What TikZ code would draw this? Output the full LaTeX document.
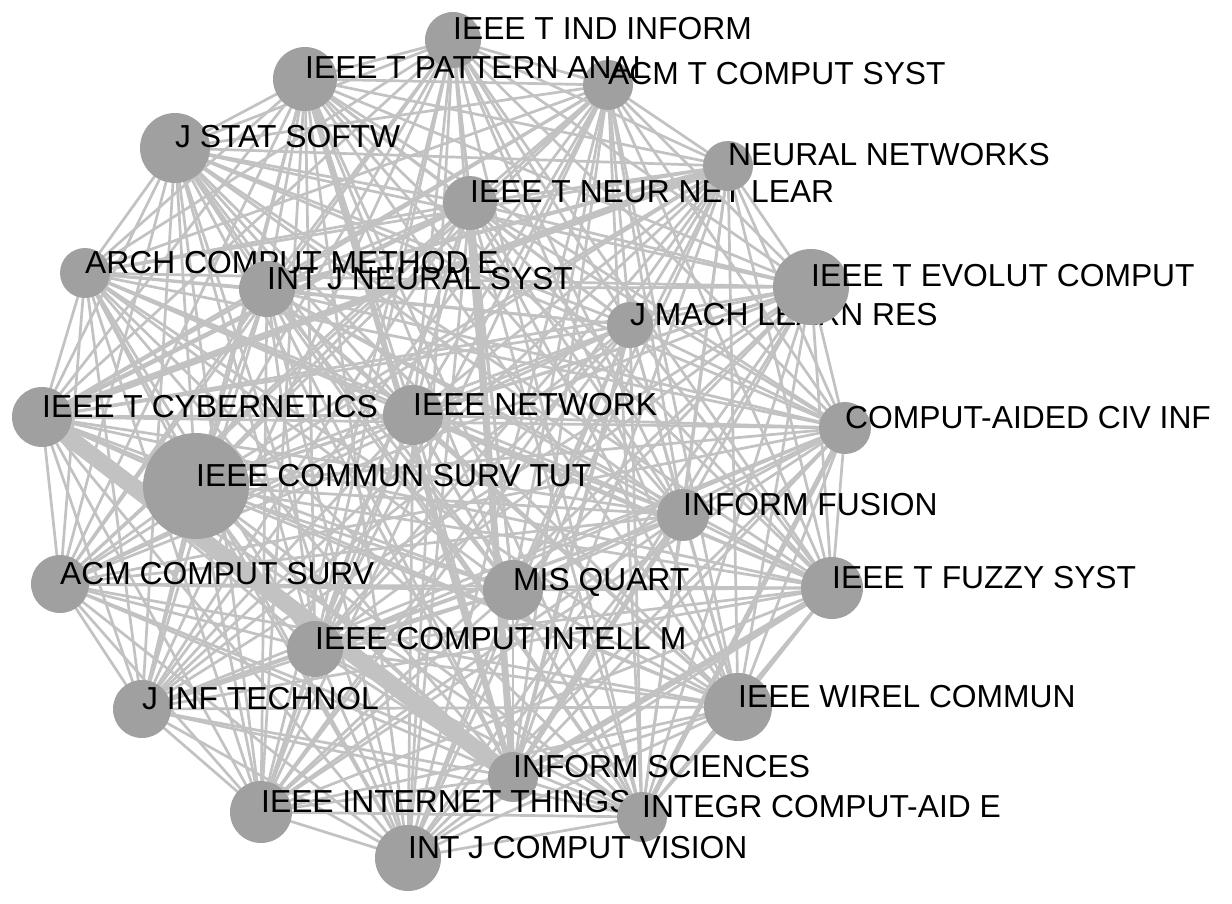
\documentclass[tikz,border=0pt]{standalone}
\usepackage{fontspec}
\setmainfont{Liberation Sans}
\usetikzlibrary{backgrounds}
\definecolor{edgegray}{HTML}{C2C2C2}
\definecolor{nodegray}{HTML}{A0A0A0}
\begin{document}
\begin{tikzpicture}[x=1pt,y=-1pt,
  jnode/.style={circle,fill=nodegray,inner sep=0pt,minimum size=#1},
  jlabel/.style={anchor=base west,inner sep=0pt,font=\fontsize{31.8}{36}\selectfont,text=black},
  link/.style={draw=edgegray,line width=2.7pt},
  heavy/.style={draw=edgegray,line width=#1}]
\useasboundingbox (0,0) rectangle (1232,904);
% circles (first group)
\node[jnode=56pt] (n1) at (453,40) {};
\node[jnode=64pt] (n2) at (305,79) {};
\node[jnode=50pt] (n3) at (608,85) {};
\node[jnode=70pt] (n4) at (175,148) {};
\node[jnode=54pt] (n6) at (470,203) {};
\node[jnode=50pt] (n7) at (85,273) {};
\node[jnode=46pt] (n10) at (630,325) {};
\node[jnode=60pt] (n11) at (42,417) {};
\node[jnode=60pt] (n12) at (413,415) {};
\node[jnode=52pt] (n13) at (845,428) {};
\node[jnode=106pt] (n14) at (196,486) {};
\node[jnode=52pt] (n15) at (683,515) {};
\node[jnode=58pt] (n16) at (60,584) {};
\node[jnode=60pt] (n17) at (513,590) {};
\node[jnode=62pt] (n18) at (832,588) {};
\node[jnode=56pt] (n19) at (315,649) {};
\node[jnode=58pt] (n20) at (142,709) {};
\node[jnode=68pt] (n21) at (738,707) {};
\node[jnode=50pt] (n22) at (513,777) {};
\node[jnode=62pt] (n23) at (261,812) {};
\node[jnode=66pt] (n25) at (408,858) {};
% labels that are partly hidden by later circles
\node[jlabel] (l7) at (n7.center) {ARCH COMPUT METHOD E};
\node[jlabel] (l10) at (n10.center) {J MACH LEARN RES};
\node[jlabel] (l23) at (n23.center) {IEEE INTERNET THINGS};
\node[jlabel] (l6) at (n6.center) {IEEE T NEUR NET LEAR};
% circles (second group)
\node[jnode=50pt] (n5) at (728,166) {};
\node[jnode=56pt] (n8) at (267,289) {};
\node[jnode=76pt] (n9) at (811,287) {};
\node[jnode=50pt] (n24) at (642,817) {};
% remaining labels
\node[jlabel] (l1) at (n1.center) {IEEE T IND INFORM};
\node[jlabel] (l2) at (n2.center) {IEEE T PATTERN ANAL};
\node[jlabel] (l3) at (n3.center) {ACM T COMPUT SYST};
\node[jlabel] (l4) at (n4.center) {J STAT SOFTW};
\node[jlabel] (l5) at (n5.center) {NEURAL NETWORKS};
\node[jlabel] (l8) at (n8.center) {INT J NEURAL SYST};
\node[jlabel] (l9) at (n9.center) {IEEE T EVOLUT COMPUT};
\node[jlabel] (l11) at (n11.center) {IEEE T CYBERNETICS};
\node[jlabel] (l12) at (n12.center) {IEEE NETWORK};
\node[jlabel] (l13) at (n13.center) {COMPUT-AIDED CIV INF};
\node[jlabel] (l14) at (n14.center) {IEEE COMMUN SURV TUT};
\node[jlabel] (l15) at (n15.center) {INFORM FUSION};
\node[jlabel] (l16) at (n16.center) {ACM COMPUT SURV};
\node[jlabel] (l17) at (n17.center) {MIS QUART};
\node[jlabel] (l18) at (n18.center) {IEEE T FUZZY SYST};
\node[jlabel] (l19) at (n19.center) {IEEE COMPUT INTELL M};
\node[jlabel] (l20) at (n20.center) {J INF TECHNOL};
\node[jlabel] (l21) at (n21.center) {IEEE WIREL COMMUN};
\node[jlabel] (l22) at (n22.center) {INFORM SCIENCES};
\node[jlabel] (l24) at (n24.center) {INTEGR COMPUT-AID E};
\node[jlabel] (l25) at (n25.center) {INT J COMPUT VISION};
% connectors
\begin{scope}[on background layer]
  \foreach \i in {1,...,24}{
    \pgfmathtruncatemacro\jj{\i+1}
    \foreach \k in {\jj,...,25}{
      \draw[link] (n\i.center) -- (n\k.center);
    }
  }
  \draw[heavy=17pt] (n11.center) -- (n22.center);
  \draw[heavy=7pt] (n11.center) -- (n5.center);
  \draw[heavy=7pt] (n6.center) -- (n22.center);
  \draw[heavy=6pt] (n2.center) -- (n22.center);
  \draw[heavy=6pt] (n22.center) -- (n18.center);
  \draw[heavy=5pt] (n22.center) -- (n15.center);
  \draw[heavy=5pt] (n13.center) -- (n24.center);
  \draw[heavy=4.5pt] (n11.center) -- (n6.center);
  \draw[heavy=4pt] (n14.center) -- (n22.center);
  \draw[heavy=4pt] (n10.center) -- (n22.center);
  \draw[heavy=4pt] (n8.center) -- (n5.center);
\end{scope}
\end{tikzpicture}
\end{document}
